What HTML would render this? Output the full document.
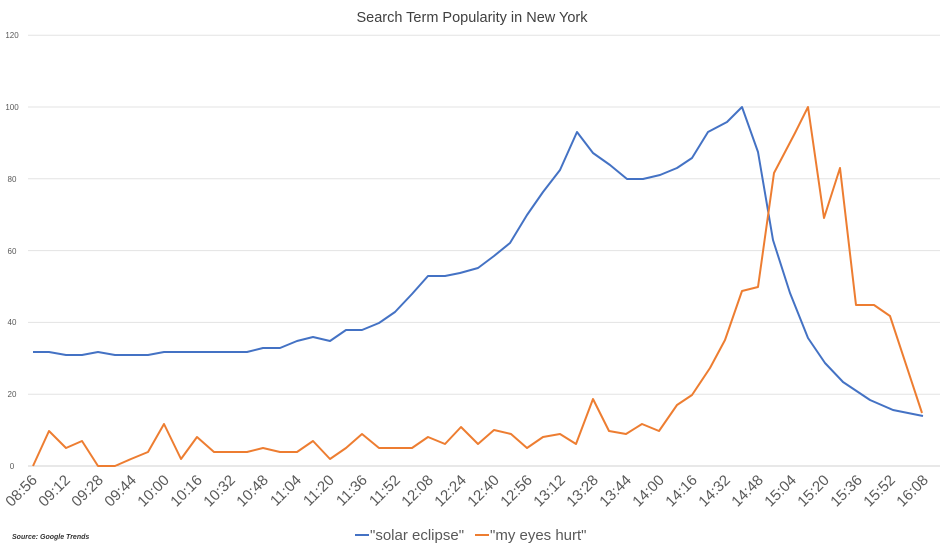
<!DOCTYPE html>
<html><head><style>
body{margin:0;background:#fff;}
svg{display:block;font-family:"Liberation Sans",sans-serif;}
</style></head><body>
<svg width="945" height="551" viewBox="0 0 945 551">
<rect width="945" height="551" fill="#fff"/>
<text x="472" y="22" text-anchor="middle" font-size="14.5" fill="#404040">Search Term Popularity in New York</text>
<g stroke="#e3e3e3" stroke-width="1">
<line x1="28" x2="940" y1="35.2" y2="35.2"/>
<line x1="28" x2="940" y1="107" y2="107"/>
<line x1="28" x2="940" y1="178.8" y2="178.8"/>
<line x1="28" x2="940" y1="250.6" y2="250.6"/>
<line x1="28" x2="940" y1="322.4" y2="322.4"/>
<line x1="28" x2="940" y1="394.2" y2="394.2"/>
<line x1="28" x2="940" y1="466" y2="466" stroke="#d0d0d0"/>
</g>
<g font-size="8" fill="#595959" text-anchor="middle">
<text x="12" y="38">120</text><text x="12" y="110">100</text><text x="12" y="182">80</text>
<text x="12" y="254">60</text><text x="12" y="325">40</text><text x="12" y="397">20</text><text x="12" y="469">0</text>
</g>
<polyline fill="none" stroke="#4472c4" stroke-width="2" stroke-linejoin="round" points="33,352 49,352 66,355 82,355 98,352 115,355 148,355 164,352 247,352 263,348 280,348 297,341 313,337 330,341 346,330 362,330 379,323 395,312 412,294 428,276 445,276 460,273 478,268 494,256 510,243 527,215 543,192 560,170 577,132 593,153 610,165 627,179 643,179 660,175 677,168 692,158 708,132 727,122 742,107 758,152 773,240 790,293 808,338 825,363 843,382 870,400 893,410 923,416"/>
<polyline fill="none" stroke="#ed7d31" stroke-width="2" stroke-linejoin="round" points="33,466 49,431 66,448 82,441 98,466 115,466 131,459 148,452 164,424 181,459 197,437 214,452 247,452 263,448 280,452 297,452 313,441 330,459 346,448 362,434 379,448 412,448 428,437 445,444 461,427 478,444 494,430 511,434 527,448 543,437 560,434 576,444 593,399 609,431 626,434 642,424 659,431 677,405 692,395 710,368 725,340 742,291 758,287 774,173 795,133 808,107 824,218 840,168 856,305 874,305 890,316 922,413"/>
<g font-size="15" fill="#595959">
<text transform="translate(38,481) rotate(-45)" text-anchor="end">08:56</text>
<text transform="translate(71,481) rotate(-45)" text-anchor="end">09:12</text>
<text transform="translate(104,481) rotate(-45)" text-anchor="end">09:28</text>
<text transform="translate(137,481) rotate(-45)" text-anchor="end">09:44</text>
<text transform="translate(170,481) rotate(-45)" text-anchor="end">10:00</text>
<text transform="translate(203,481) rotate(-45)" text-anchor="end">10:16</text>
<text transform="translate(236,481) rotate(-45)" text-anchor="end">10:32</text>
<text transform="translate(269,481) rotate(-45)" text-anchor="end">10:48</text>
<text transform="translate(302,481) rotate(-45)" text-anchor="end">11:04</text>
<text transform="translate(335,481) rotate(-45)" text-anchor="end">11:20</text>
<text transform="translate(368,481) rotate(-45)" text-anchor="end">11:36</text>
<text transform="translate(401,481) rotate(-45)" text-anchor="end">11:52</text>
<text transform="translate(434,481) rotate(-45)" text-anchor="end">12:08</text>
<text transform="translate(467,481) rotate(-45)" text-anchor="end">12:24</text>
<text transform="translate(500,481) rotate(-45)" text-anchor="end">12:40</text>
<text transform="translate(533,481) rotate(-45)" text-anchor="end">12:56</text>
<text transform="translate(566,481) rotate(-45)" text-anchor="end">13:12</text>
<text transform="translate(599,481) rotate(-45)" text-anchor="end">13:28</text>
<text transform="translate(632,481) rotate(-45)" text-anchor="end">13:44</text>
<text transform="translate(665,481) rotate(-45)" text-anchor="end">14:00</text>
<text transform="translate(698,481) rotate(-45)" text-anchor="end">14:16</text>
<text transform="translate(731,481) rotate(-45)" text-anchor="end">14:32</text>
<text transform="translate(764,481) rotate(-45)" text-anchor="end">14:48</text>
<text transform="translate(797,481) rotate(-45)" text-anchor="end">15:04</text>
<text transform="translate(830,481) rotate(-45)" text-anchor="end">15:20</text>
<text transform="translate(863,481) rotate(-45)" text-anchor="end">15:36</text>
<text transform="translate(896,481) rotate(-45)" text-anchor="end">15:52</text>
<text transform="translate(929,481) rotate(-45)" text-anchor="end">16:08</text>
</g>
<text x="12" y="539" font-size="7" font-style="italic" font-weight="bold" fill="#333">Source: Google Trends</text>
<line x1="355" x2="369" y1="535" y2="535" stroke="#4472c4" stroke-width="2"/>
<text x="370" y="540" font-size="15" fill="#595959">"solar eclipse"</text>
<line x1="475" x2="489" y1="535" y2="535" stroke="#ed7d31" stroke-width="2"/>
<text x="490" y="540" font-size="15" fill="#595959">"my eyes hurt"</text>
</svg>
</body></html>
